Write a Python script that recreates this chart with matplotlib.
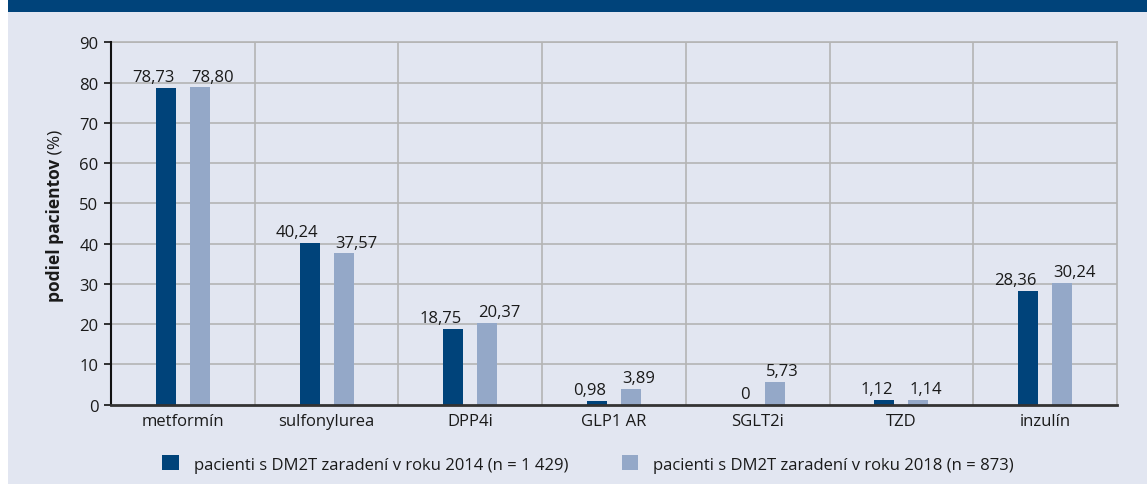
import matplotlib
matplotlib.use("Agg")
import matplotlib.pyplot as plt
import numpy as np
from matplotlib.patches import Rectangle

plt.rcParams['font.family'] = ['Open Sans', 'DejaVu Sans']

categories = ["metformín", "sulfonylurea", "DPP4i", "GLP1 AR", "SGLT2i", "TZD", "inzulín"]
values_2014 = [78.73, 40.24, 18.75, 0.98, 0.0, 1.12, 28.36]
values_2018 = [78.80, 37.57, 20.37, 3.89, 5.73, 1.14, 30.24]
series_labels = ["pacienti s DM2T zaradení v roku 2014 (n = 1 429)",
                 "pacienti s DM2T zaradení v roku 2018 (n = 873)"]
y_ticks = [0, 10, 20, 30, 40, 50, 60, 70, 80, 90]

DARK = "#00437A"
LIGHT = "#94A8C8"
PANEL = "#E2E6F1"
GRID = "#B4B4B4"
TEXT = "#1A1A1A"

W, H = 1147, 485
fig = plt.figure(figsize=(W / 100, H / 100), dpi=100)
fig.patch.set_facecolor("white")

# page panel and header band
fig.patches.append(Rectangle((8 / W, 0), 1 - 8 / W, 1, transform=fig.transFigure,
                             facecolor=PANEL, edgecolor="none", zorder=-2))
fig.patches.append(Rectangle((8 / W, 1 - 13 / H), 1 - 8 / W, 13 / H, transform=fig.transFigure,
                             facecolor=DARK, edgecolor="none", zorder=-1))

left, right, top, bottom = 111, 1117, 43.3, 405.7
ax = fig.add_axes([left / W, (H - bottom) / H, (right - left) / W, (bottom - top) / H])
ax.set_zorder(1)
ax.patch.set_alpha(0)

x = np.arange(len(categories))
bw = 0.139
off = 0.118
b1 = ax.bar(x - off, values_2014, bw, color=DARK, zorder=3, label=series_labels[0])
b2 = ax.bar(x + off, values_2018, bw, color=LIGHT, zorder=3, label=series_labels[1])

fs = 12


def fmt(v):
    return f"{v:.2f}".replace(".", ",") if v != 0 else "0"


# value labels sit above each bar, pushed apart around the group centre
for xi, v1, v2 in zip(x, values_2014, values_2018):
    ax.annotate(fmt(v1), (xi, v1), xytext=(-6, 2), textcoords="offset points",
                ha="right", va="bottom", fontsize=fs, color=TEXT, zorder=4)
    ax.annotate(fmt(v2), (xi, v2), xytext=(6, 2), textcoords="offset points",
                ha="left", va="bottom", fontsize=fs, color=TEXT, zorder=4)

ax.set_xlim(-0.5, len(categories) - 0.5)
ax.set_ylim(0, 90)
ax.set_yticks(y_ticks)
ax.set_yticklabels([str(t) for t in y_ticks])
ax.set_xticks(x)
ax.set_xticklabels(categories)
ax.tick_params(axis="y", length=5, width=1.2, color="#111111", labelsize=fs,
               labelcolor=TEXT, pad=4)
ax.tick_params(axis="x", length=0, labelsize=fs, labelcolor=TEXT, pad=6)

for yv in y_ticks[1:]:
    ax.axhline(yv, color=GRID, lw=1.2, zorder=1)
for xv in np.arange(0.5, len(categories) - 0.5, 1):
    ax.axvline(xv, color=GRID, lw=1.2, zorder=1)

for s in ("top", "right"):
    ax.spines[s].set_color(GRID)
    ax.spines[s].set_linewidth(1.2)
ax.spines["left"].set_color("#111111")
ax.spines["left"].set_linewidth(1.5)
ax.spines["bottom"].set_color("#333333")
ax.spines["bottom"].set_linewidth(2.0)
ax.spines["left"].set_zorder(5)
ax.spines["bottom"].set_zorder(5)

# y label: bold part plus regular unit
fig.canvas.draw()
r = fig.canvas.get_renderer()
ycenter = 216
t1 = fig.text(55 / W, 0, "podiel pacientov", rotation=90, fontsize=12.5, fontweight="bold",
              ha="center", va="bottom", color=TEXT)
t2 = fig.text(55 / W, 0, " (%)", rotation=90, fontsize=12.5, ha="center", va="bottom", color=TEXT)
e1 = t1.get_window_extent(r)
e2 = t2.get_window_extent(r)
total = e1.height + e2.height
y0 = (H - ycenter) - total / 2
t1.set_y(y0 / H)
t2.set_y((y0 + e1.height) / H)

leg = fig.legend(handles=[b1, b2], labels=series_labels, loc="center",
                 bbox_to_anchor=(588 / W, (H - 465) / H), ncol=2, frameon=False,
                 fontsize=fs, handlelength=1.0, handleheight=1.0, handletextpad=0.9,
                 columnspacing=3.2, labelcolor=TEXT)

fig.savefig("out.png", dpi=100, facecolor=fig.get_facecolor())
